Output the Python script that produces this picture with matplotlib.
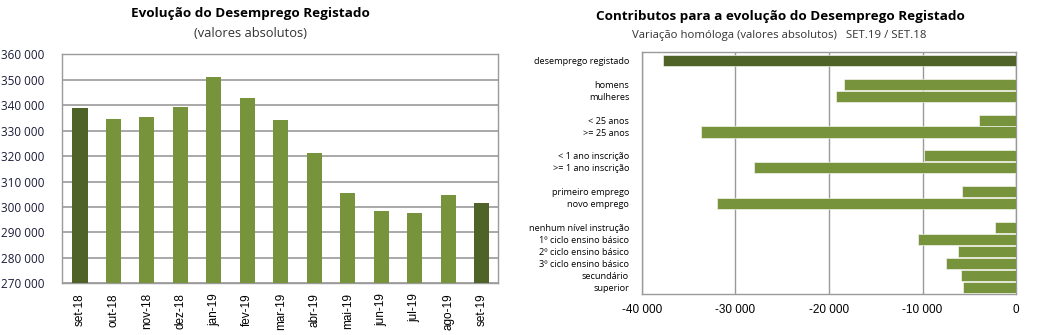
import matplotlib
matplotlib.use("Agg")
import matplotlib.pyplot as plt
from matplotlib.ticker import FuncFormatter

# left chart: monthly registered unemployment
months = ['set-18', 'out-18', 'nov-18', 'dez-18', 'jan-19', 'fev-19', 'mar-19',
          'abr-19', 'mai-19', 'jun-19', 'jul-19', 'ago-19', 'set-19']
desemprego = [339000, 334500, 335200, 339100, 350900, 343000, 334000,
              321400, 305400, 298300, 297500, 304600, 301400]

# right chart: year-on-year variation contributions
categorias = ['desemprego registado',
              'homens', 'mulheres',
              '< 25 anos', '>= 25 anos',
              '< 1 ano inscrição', '>= 1 ano inscrição',
              'primeiro emprego', 'novo emprego',
              'nenhum nível instrução', '1º ciclo ensino básico',
              '2º ciclo ensino básico', '3º ciclo ensino básico',
              'secundário', 'superior']
variacao = [-37700,
            -18400, -19300,
            -3950, -33700,
            -9800, -28000,
            -5800, -32000,
            -2250, -10500, -6200, -7500, -5900, -5700]
# row slot of each category (blank slot between groups)
linhas = [0, 2, 3, 5, 6, 8, 9, 11, 12, 14, 15, 16, 17, 18, 19]

DARK = '#4F6228'
GREEN = '#77933C'
GRID = '#9a9a9a'
FONT = ['Open Sans', 'DejaVu Sans']

plt.rcParams['font.family'] = FONT

def fmt_milhares(v, pos):
    return '{:,.0f}'.format(v).replace(',', ' ')

fig = plt.figure(figsize=(10.45, 3.35), dpi=100)

# ---- left chart
ax1 = fig.add_axes([0.0596, 0.1543, 0.4167, 0.6836])
cores = [DARK if i in (0, len(months) - 1) else GREEN for i in range(len(months))]
x = range(len(months))
ax1.bar(x, desemprego, width=0.45, color=cores, zorder=3)
ax1.set_ylim(270000, 360000)
ax1.set_xlim(-0.53, 12.48)
ax1.set_yticks(range(270000, 360001, 10000))
ax1.yaxis.set_major_formatter(FuncFormatter(fmt_milhares))
ax1.set_xticks(list(x))
ax1.set_xticklabels(months, rotation=90, family=['Liberation Sans'], fontsize=8.5)
ax1.grid(axis='y', color=GRID, linewidth=1.2, zorder=0)
ax1.tick_params(axis='both', length=0)
ax1.tick_params(axis='y', pad=13, labelsize=8.5, labelcolor='#1c1c3a')
ax1.tick_params(axis='x', pad=7)
for s in ax1.spines.values():
    s.set_color(GRID)
    s.set_linewidth(1.0)

fig.text(0.240, 0.960, 'Evolução do Desemprego Registado', ha='center', va='center',
         fontsize=9.7, fontweight='bold')
fig.text(0.240, 0.900, '(valores absolutos)', ha='center', va='center', fontsize=9.3,
         color='#333333')

# ---- right chart
ax2 = fig.add_axes([0.614, 0.1215, 0.3585, 0.724])
cores2 = [DARK] + [GREEN] * (len(categorias) - 1)
ax2.barh(linhas, variacao, height=0.92, color=cores2, edgecolor='white',
         linewidth=0.4, zorder=3)
ax2.set_xlim(-40000, 0)
ax2.set_ylim(19.55, -0.7)
ax2.set_xticks(range(-40000, 1, 10000))
ax2.xaxis.set_major_formatter(FuncFormatter(fmt_milhares))
ax2.set_yticks(linhas)
ax2.set_yticklabels(categorias, fontsize=6.6)
ax2.grid(axis='x', color=GRID, linewidth=1.0, zorder=0)
ax2.tick_params(axis='both', length=0)
ax2.tick_params(axis='y', pad=9)
ax2.tick_params(axis='x', pad=7, labelsize=8.5)
for lbl in ax2.get_xticklabels():
    lbl.set_family(['Liberation Sans'])
for s in ax2.spines.values():
    s.set_color(GRID)
    s.set_linewidth(1.0)

fig.text(0.747, 0.952, 'Contributos para a evolução do Desemprego Registado',
         ha='center', va='center', fontsize=9.7, fontweight='bold')
fig.text(0.746, 0.895, 'Variação homóloga (valores absolutos)   SET.19 / SET.18',
         ha='center', va='center', fontsize=8.2, color='#333333')

fig.savefig('out.png', dpi=100)
